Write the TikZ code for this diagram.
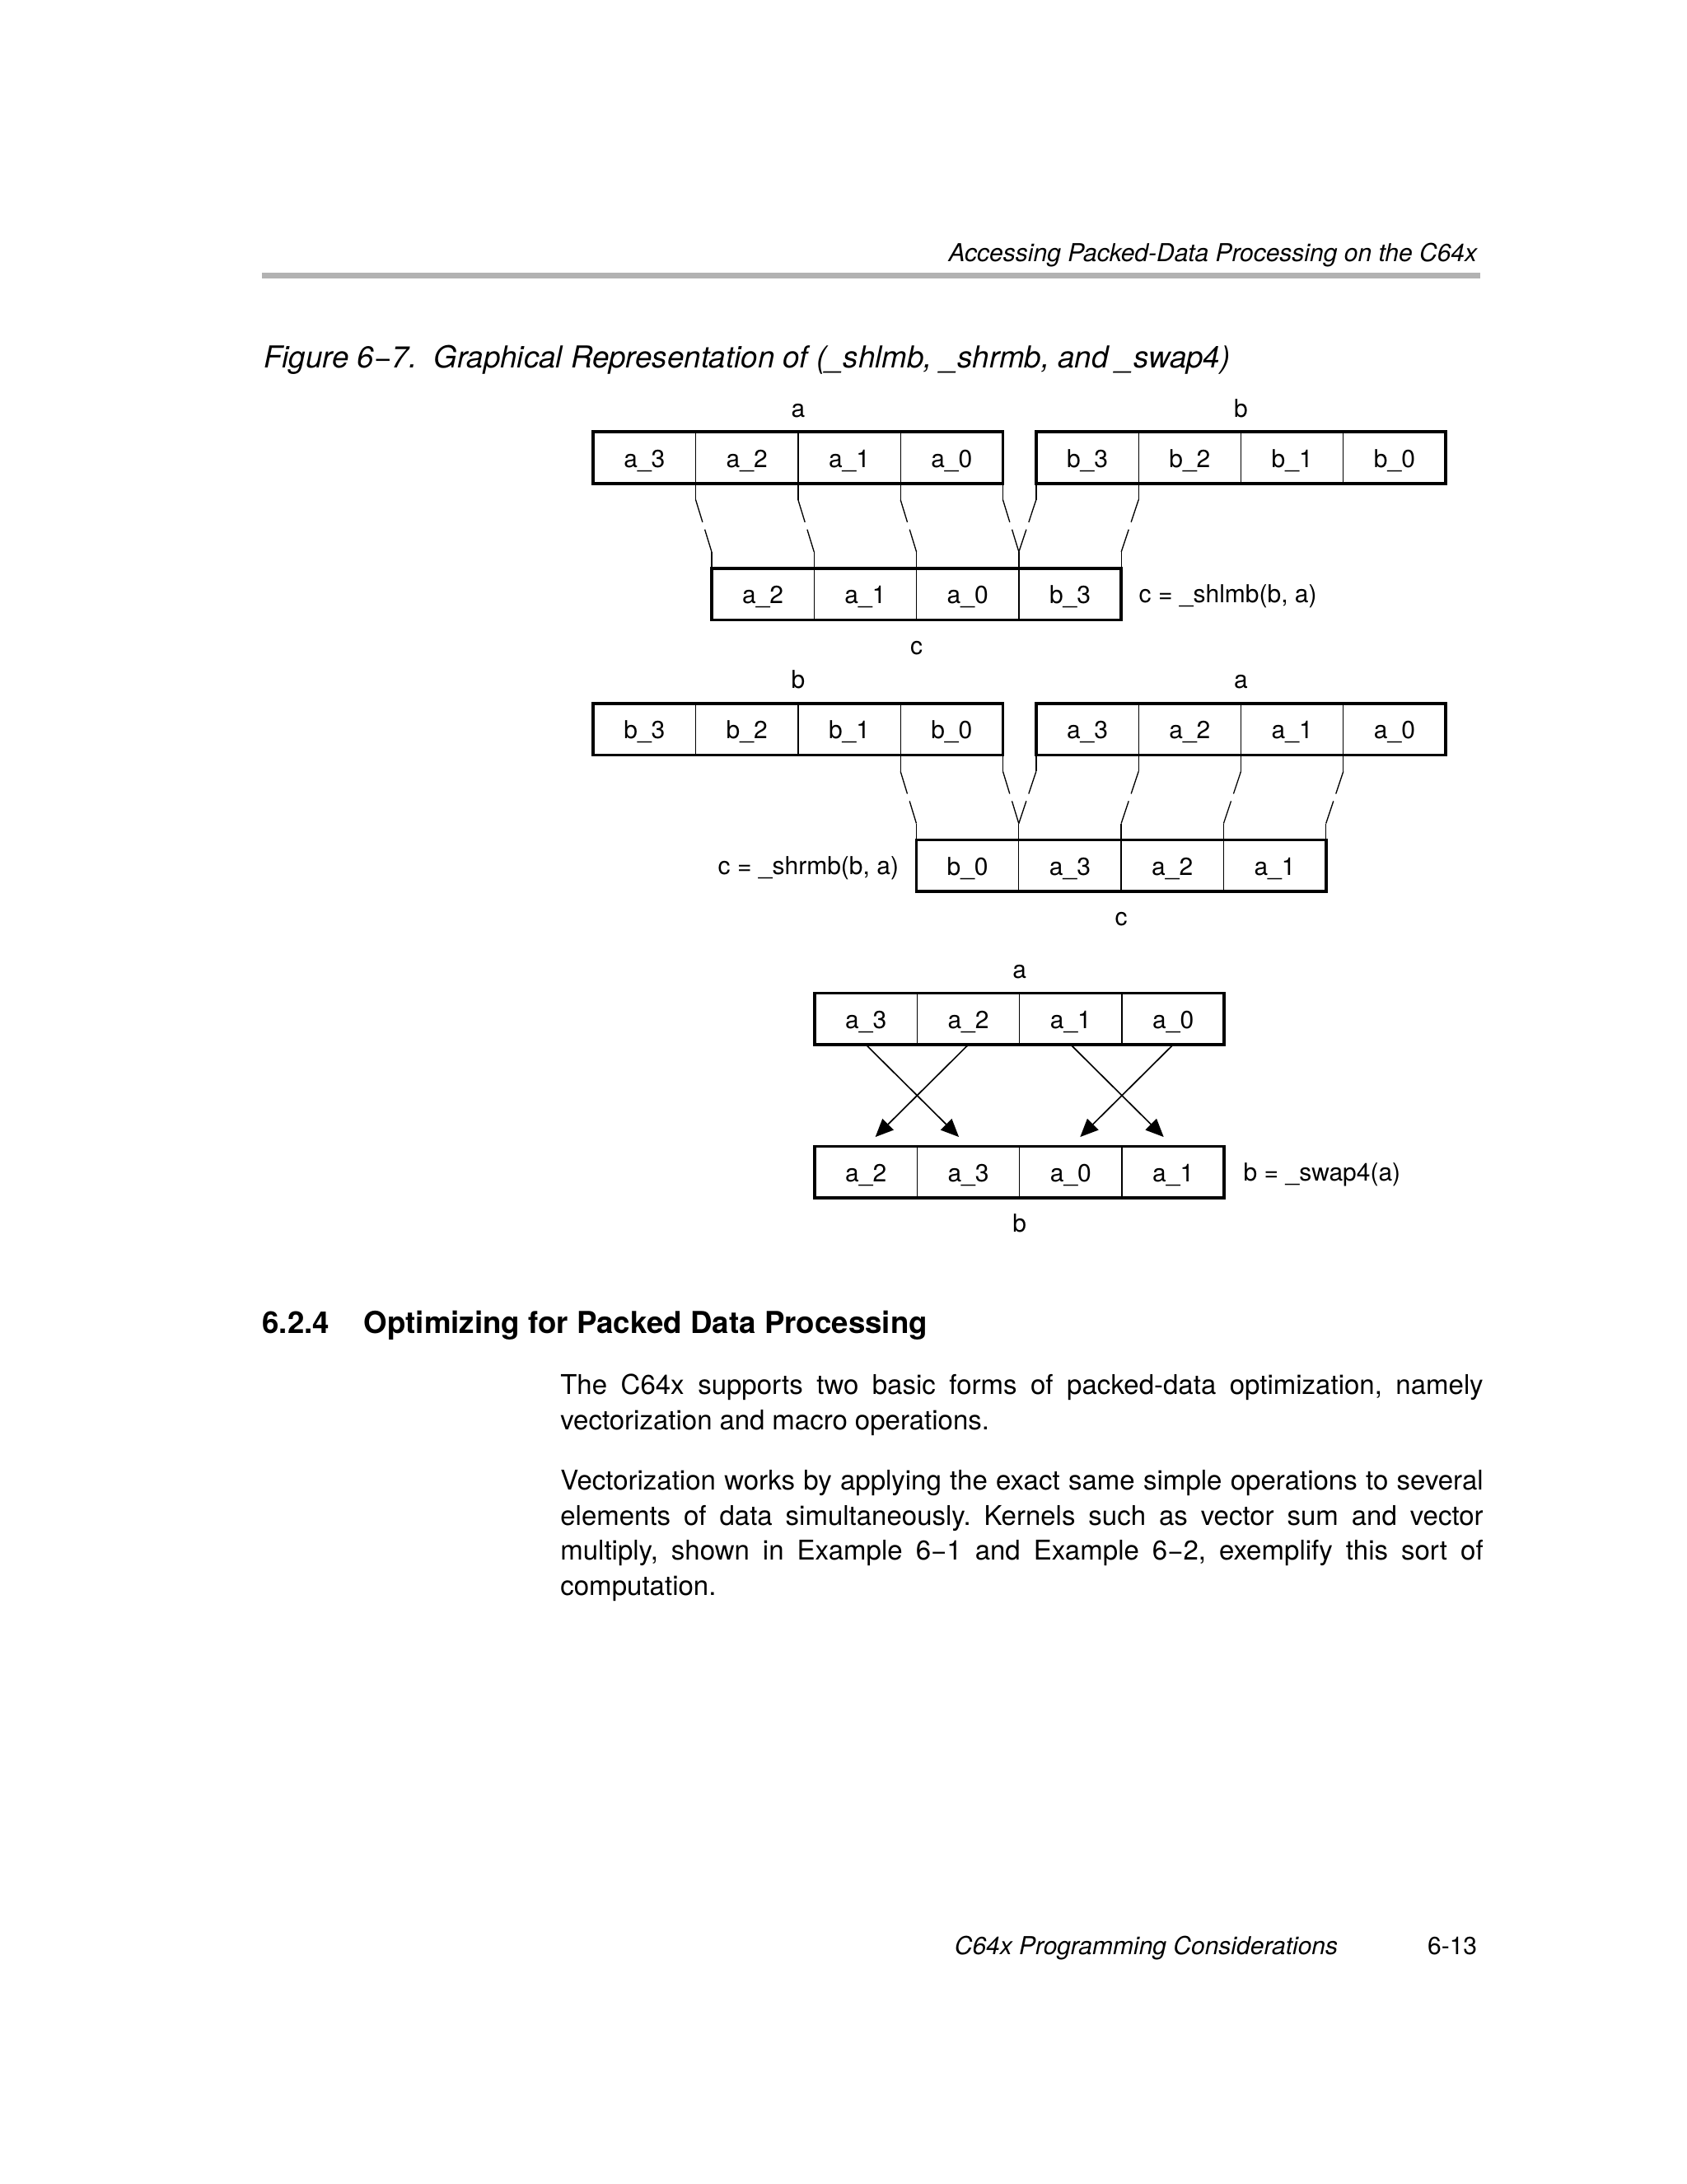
\documentclass[tikz,border=0pt]{standalone}
\usepackage{fontspec}
\setmainfont{TeX Gyre Heros}
\usepackage{xcolor}
\definecolor{rulegray}{RGB}{178,178,178}
\usepackage{tikz}
\usetikzlibrary{arrows.meta,positioning,calc,fit}
\hyphenpenalty=10000
\exhyphenpenalty=10000
% body text font with tight spacing
\newcommand{\bodyfont}{\fontsize{9.9}{12.8}\selectfont\frenchspacing
  \spaceskip=0.27em plus 0.3em minus 0.1em\relax}
% broken link between two register cells
\newcommand{\splitlink}[2]{%
  \draw[link] (#1) -- ++(0,-0.21cm) coordinate (s1);
  \draw[link] (#2) -- ++(0,0.21cm) coordinate (s2);
  \draw[link] (s1) -- ($(s1)!0.43!(s2)$);
  \draw[link] ($(s1)!0.57!(s2)$) -- (s2);
}

\begin{document}
\begin{tikzpicture}[
  x=0.017828cm, y=-0.017828cm,
  node distance=0pt,
  cell/.style={rectangle, draw, line width=0.4pt, minimum width=1.3104cm,
               minimum height=0.6596cm, inner sep=0pt, outer sep=0pt,
               text height=7pt, text depth=0pt,
               font=\fontsize{9}{11}\selectfont},
  frame/.style={rectangle, draw, line width=1.1pt, inner sep=0pt},
  tag/.style={inner sep=0pt, text height=1.6ex, text depth=0.4ex,
              font=\fontsize{9}{11}\selectfont},
  link/.style={line width=0.4pt},
  arrow/.style={line width=0.5pt, -{Triangle[length=0.23cm,width=0.2cm]},
                shorten >=0.17cm},
  body/.style={inner sep=0pt, anchor=north west, text width=11.81cm,
               align=justify, font=\bodyfont}
]
  \useasboundingbox (0,0) rectangle (1211,1568);
  % Page header
  \node[inner sep=0pt, anchor=base east, font=\fontsize{9}{11}\itshape]
        (head) at (1061,188) {Accessing Packed-Data Processing on the C64x};
  \coordinate (rl) at (188,198);
  \coordinate (rr) at (1063,198);
  \draw[rulegray, line width=2pt] (rl) -- (rr);
  \node[inner sep=0pt, anchor=base west, font=\fontsize{11}{13}\itshape]
        (cap) at (189,264) {Figure 6−7.\ \ Graphical Representation of (\_shlmb, \_shrmb, and \_swap4)};

  % _shlmb: a and b in, c out
  \node[cell, anchor=north west] (la3) at (426,310) {a\_3};
  \node[cell, right=of la3] (la2) {a\_2};
  \node[cell, right=of la2] (la1) {a\_1};
  \node[cell, right=of la1] (la0) {a\_0};
  \node[cell, anchor=north west] (lb3) at (744,310) {b\_3};
  \node[cell, right=of lb3] (lb2) {b\_2};
  \node[cell, right=of lb2] (lb1) {b\_1};
  \node[cell, right=of lb1] (lb0) {b\_0};
  \node[cell, anchor=north west] (lc1) at (511,408) {a\_2};
  \node[cell, right=of lc1] (lc2) {a\_1};
  \node[cell, right=of lc2] (lc3) {a\_0};
  \node[cell, right=of lc3] (lc4) {b\_3};
  \node[frame, fit=(la3)(la0)] (lafr) {};
  \node[frame, fit=(lb3)(lb0)] (lbfr) {};
  \node[frame, fit=(lc1)(lc4)] (lcfr) {};
  \node[tag, above=0.09cm of lafr] (lan) {a};
  \node[tag, above=0.09cm of lbfr] (lbn) {b};
  \node[tag, below=0.12cm of lcfr] (lcn) {c};
  \node[tag, right=0.2cm of lcfr] (lop) {c = \_shlmb(b, a)};
  \splitlink{la3.south east}{lc1.north west}
  \splitlink{la2.south east}{lc2.north west}
  \splitlink{la1.south east}{lc3.north west}
  \splitlink{la0.south east}{lc4.north west}
  \splitlink{lb3.south west}{lc4.north west}
  \splitlink{lb3.south east}{lc4.north east}

  % _shrmb: b and a in, c out
  \node[cell, anchor=north west] (rb3) at (426,505) {b\_3};
  \node[cell, right=of rb3] (rb2) {b\_2};
  \node[cell, right=of rb2] (rb1) {b\_1};
  \node[cell, right=of rb1] (rb0) {b\_0};
  \node[cell, anchor=north west] (ra3) at (744,505) {a\_3};
  \node[cell, right=of ra3] (ra2) {a\_2};
  \node[cell, right=of ra2] (ra1) {a\_1};
  \node[cell, right=of ra1] (ra0) {a\_0};
  \node[cell, anchor=north west] (rc1) at (658,603) {b\_0};
  \node[cell, right=of rc1] (rc2) {a\_3};
  \node[cell, right=of rc2] (rc3) {a\_2};
  \node[cell, right=of rc3] (rc4) {a\_1};
  \node[frame, fit=(rb3)(rb0)] (rbfr) {};
  \node[frame, fit=(ra3)(ra0)] (rafr) {};
  \node[frame, fit=(rc1)(rc4)] (rcfr) {};
  \node[tag, above=0.09cm of rbfr] (rbn) {b};
  \node[tag, above=0.09cm of rafr] (ran) {a};
  \node[tag, below=0.12cm of rcfr] (rcn) {c};
  \node[tag, left=0.2cm of rcfr] (rop) {c = \_shrmb(b, a)};
  \splitlink{rb1.south east}{rc1.north west}
  \splitlink{rb0.south east}{rc1.north east}
  \splitlink{ra3.south west}{rc1.north east}
  \splitlink{ra3.south east}{rc2.north east}
  \splitlink{ra2.south east}{rc3.north east}
  \splitlink{ra1.south east}{rc4.north east}

  % _swap4: a in, b out
  \node[cell, anchor=north west] (wa3) at (585,713) {a\_3};
  \node[cell, right=of wa3] (wa2) {a\_2};
  \node[cell, right=of wa2] (wa1) {a\_1};
  \node[cell, right=of wa1] (wa0) {a\_0};
  \node[cell, anchor=north west] (wb1) at (585,823) {a\_2};
  \node[cell, right=of wb1] (wb2) {a\_3};
  \node[cell, right=of wb2] (wb3) {a\_0};
  \node[cell, right=of wb3] (wb4) {a\_1};
  \node[frame, fit=(wa3)(wa0)] (wafr) {};
  \node[frame, fit=(wb1)(wb4)] (wbfr) {};
  \node[tag, above=0.09cm of wafr] (wan) {a};
  \node[tag, below=0.12cm of wbfr] (wbn) {b};
  \node[tag, right=0.22cm of wbfr] (wop) {b = \_swap4(a)};
  \draw[arrow] (wa3.south) -- (wb2.north);
  \draw[arrow] (wa2.south) -- (wb1.north);
  \draw[arrow] (wa1.south) -- (wb4.north);
  \draw[arrow] (wa0.south) -- (wb3.north);

  % Section text
  \node[inner sep=0pt, anchor=base west, font=\fontsize{11}{13}\bfseries]
        (secno) at (188,957) {6.2.4};
  \node[inner sep=0pt, anchor=base west, font=\fontsize{11}{13}\bfseries]
        (sect) at (261,957) {Optimizing for Packed Data Processing};
  \node[body] (para1) at (402,986) {The C64x supports two basic forms of packed-data optimization, namely\linebreak vectorization and macro operations.};
  \node[body] (para2) at (402,1055) {Vectorization works by applying the exact same simple operations to several\linebreak elements of data simultaneously. Kernels such as vector sum and vector\linebreak multiply, shown in Example 6−1 and Example 6−2, exemplify this sort of\linebreak computation.};

  % Page footer
  \node[inner sep=0pt, anchor=base east, font=\fontsize{9}{11}\itshape]
        (foot) at (961,1403) {C64x Programming Considerations};
  \node[inner sep=0pt, anchor=base east, font=\fontsize{9}{11}\selectfont]
        (pgno) at (1061,1403) {6-13};
\end{tikzpicture}
\end{document}
